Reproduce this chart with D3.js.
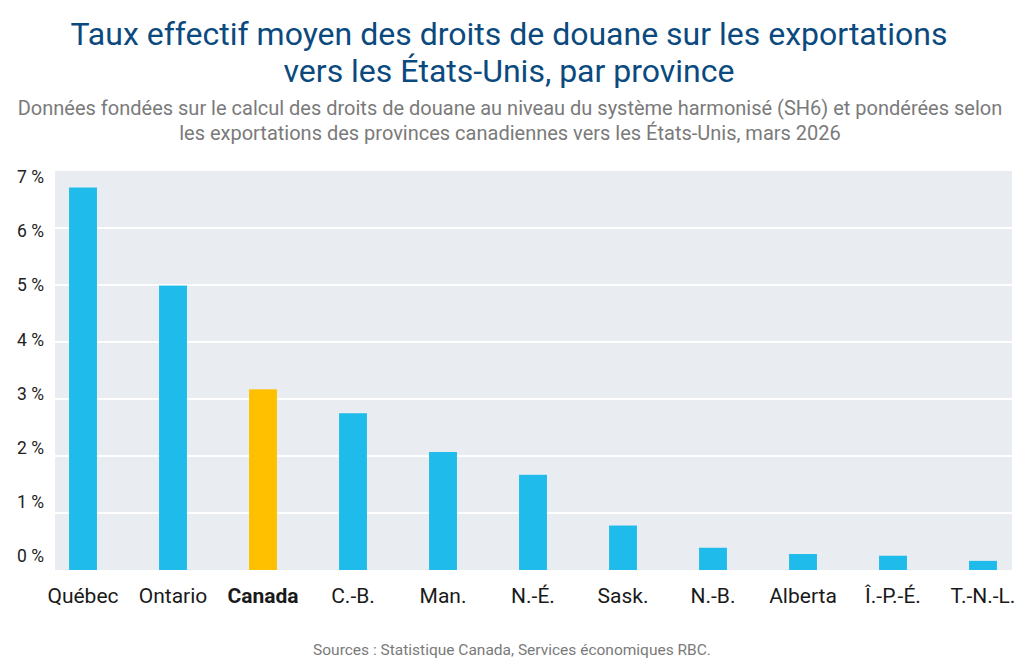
<!DOCTYPE html>
<html>
<head>
<meta charset="utf-8">
<script src="https://cdn.jsdelivr.net/npm/d3@7"></script>
<style>
body { margin: 0; background: #fff; }
svg text { font-family: Roboto, "Noto Sans", sans-serif; }
</style>
</head>
<body>
<div id="chart"></div>
<script>
var provinces = ['Québec', 'Ontario', 'Canada', 'C.-B.', 'Man.', 'N.-É.', 'Sask.', 'N.-B.', 'Alberta', 'Î.-P.-É.', 'T.-N.-L.'];
var tauxDouane = [6.71, 4.99, 3.17, 2.75, 2.07, 1.67, 0.78, 0.39, 0.28, 0.25, 0.16];
var yTicks = [0, 1, 2, 3, 4, 5, 6, 7];
var titre = ['Taux effectif moyen des droits de douane sur les exportations', 'vers les États-Unis, par province'];
var sousTitre = ['Données fondées sur le calcul des droits de douane au niveau du système harmonisé (SH6) et pondérées selon', 'les exportations des provinces canadiennes vers les États-Unis, mars 2026'];
var source = 'Sources : Statistique Canada, Services économiques RBC.';

var data = provinces.map(function(p, i) { return {prov: p, val: tauxDouane[i]}; });

var svg = d3.select('#chart')
.append('svg')
.attr('width', 1024)
.attr('height', 664);

var x = d3.scaleBand()
.domain(provinces)
.range([38, 1028])
.paddingInner(0.69)
.paddingOuter(0.345);

var y = d3.scaleLinear()
.domain([0, 7])
.range([570, 171]);

// les etiquettes de l'axe sont un peu decalees des lignes dans l'original
var yLab = d3.scaleLinear()
.domain([0, 7])
.range([556, 177]);

svg.selectAll('.titre')
.data(titre)
.enter()
.append('text')
.attr('x', 509)
.attr('y', function(d, i) { return 45 + i * 37; })
.attr('text-anchor', 'middle')
.attr('font-size', '32px')
.attr('fill', '#0b4a7e')
.text(function(d) { return d; });

svg.selectAll('.soustitre')
.data(sousTitre)
.enter()
.append('text')
.attr('x', 510)
.attr('y', function(d, i) { return 115 + i * 25; })
.attr('text-anchor', 'middle')
.attr('font-size', '20px')
.attr('fill', '#7a7a7a')
.text(function(d) { return d; });

svg.append('rect')
.attr('x', 55)
.attr('y', y(7))
.attr('width', 957)
.attr('height', y(0) - y(7))
.attr('fill', '#e9ecf0');

svg.selectAll('.grid')
.data(yTicks.filter(function(t) { return t > 0 && t < 7; }))
.enter()
.append('line')
.attr('x1', 55)
.attr('x2', 1012)
.attr('y1', function(d) { return y(d); })
.attr('y2', function(d) { return y(d); })
.attr('stroke', '#fff')
.attr('stroke-width', 2);

svg.selectAll('.ylab')
.data(yTicks)
.enter()
.append('text')
.attr('x', 44)
.attr('y', function(d) { return yLab(d); })
.attr('dy', '0.35em')
.attr('text-anchor', 'end')
.attr('font-size', '17.5px')
.attr('fill', '#222')
.text(function(d) { return d + ' %'; });

svg.selectAll('.bar')
.data(data)
.enter()
.append('rect')
.attr('x', function(d) { return x(d.prov); })
.attr('y', function(d) { return y(d.val); })
.attr('width', x.bandwidth())
.attr('height', function(d) { return y(0) - y(d.val); })
.attr('fill', function(d) { return d.prov === 'Canada' ? '#ffc000' : '#1fbbeb'; });

svg.selectAll('.xlab')
.data(data)
.enter()
.append('text')
.attr('x', function(d) { return x(d.prov) + x.bandwidth() / 2; })
.attr('y', 603)
.attr('text-anchor', 'middle')
.attr('font-size', '21px')
.attr('font-weight', function(d) { return d.prov === 'Canada' ? 'bold' : 'normal'; })
.attr('fill', '#1a1a1a')
.text(function(d) { return d.prov; });

svg.append('text')
.attr('x', 512)
.attr('y', 655)
.attr('text-anchor', 'middle')
.attr('font-size', '15.5px')
.attr('fill', '#7a7a7a')
.text(source);
</script>
</body>
</html>
